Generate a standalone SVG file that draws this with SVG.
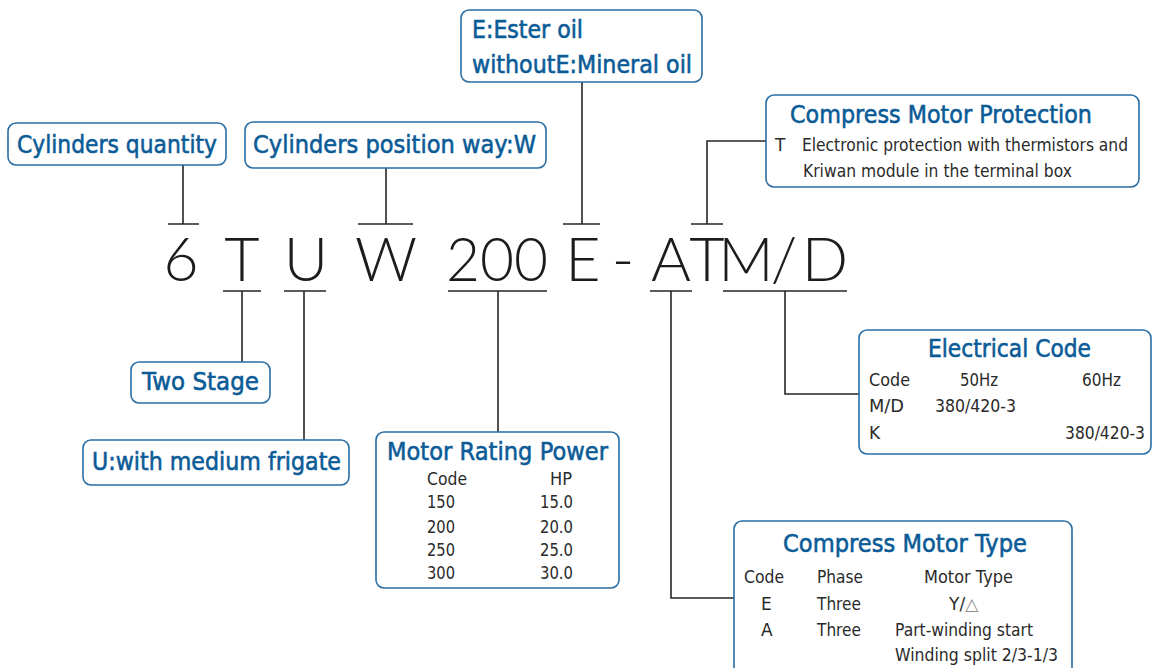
<svg xmlns="http://www.w3.org/2000/svg" width="1152" height="668" viewBox="0 0 1152 668">
<style>
.box{fill:#fff;stroke:#2a6ea4;stroke-width:1.6}
.ttl{font-family:"DejaVu Sans",sans-serif;font-size:25px;fill:#0b5b97;stroke:#0b5b97;stroke-width:0.6}
.ttl2{font-family:"DejaVu Sans",sans-serif;font-size:24px;fill:#0b5b97;stroke:#0b5b97;stroke-width:0.6}
.bd{font-family:"DejaVu Sans",sans-serif;font-size:17px;fill:#2a2a2a}
.big{font-family:Lato,"Liberation Sans",sans-serif;font-weight:300;font-size:61px;fill:#1c1c1c;text-anchor:middle}
.ln{fill:none;stroke:#262626;stroke-width:1.6}
</style>
<rect width="1152" height="668" fill="#fff"/>
<g id="connectors">
<path class="ln" d="M183 165V224M168 224H199"/>
<path class="ln" d="M386 168V224M358 224H413"/>
<path class="ln" d="M582 82V224M563 224H600"/>
<path class="ln" d="M766 141H707V224M691 224H723"/>
<path class="ln" d="M223 291H261M242 291V362"/>
<path class="ln" d="M284 291H326M304 291V440"/>
<path class="ln" d="M448 291H547M498 291V432"/>
<path class="ln" d="M650 291H692M671 291V598H734"/>
<path class="ln" d="M723 291H847M785 291V394H859"/>
</g>
<g id="code">
<text class="big" x="181" y="281">6</text>
<text class="big" x="242" y="281">T</text>
<text class="big" x="306" y="281">U</text>
<text class="big" x="386" y="281">W</text>
<text class="big" x="497" y="281" textLength="102" lengthAdjust="spacingAndGlyphs">200</text>
<text class="big" x="583" y="281">E</text>
<text class="big" x="623" y="281">-</text>
<text class="big" x="671" y="281">A</text>
<text class="big" x="707" y="281">T</text>
<text class="big" x="746" y="281">M</text>
<text class="big" x="784" y="281">/</text>
<text class="big" x="825" y="281">D</text>
</g>
<g id="cylinders-quantity">
<rect class="box" x="8" y="123" width="218" height="42" rx="8"/>
<text class="ttl" x="17" y="153" textLength="200" lengthAdjust="spacingAndGlyphs">Cylinders quantity</text>
</g>
<g id="cylinders-position">
<rect class="box" x="245" y="122" width="301" height="46" rx="8"/>
<text class="ttl" x="253" y="153" textLength="283" lengthAdjust="spacingAndGlyphs">Cylinders position way:W</text>
</g>
<g id="oil">
<rect class="box" x="461" y="10" width="241" height="72" rx="8"/>
<text class="ttl2" x="472" y="38" textLength="111" lengthAdjust="spacingAndGlyphs">E:Ester oil</text>
<text class="ttl2" x="472" y="73" textLength="220" lengthAdjust="spacingAndGlyphs">withoutE:Mineral oil</text>
</g>
<g id="motor-protection">
<rect class="box" x="766" y="95" width="373" height="92" rx="8"/>
<text class="ttl" x="790" y="123" textLength="302" lengthAdjust="spacingAndGlyphs">Compress Motor Protection</text>
<text class="bd" x="775" y="151">T</text>
<text class="bd" x="802" y="151" textLength="326" lengthAdjust="spacingAndGlyphs">Electronic protection with thermistors and</text>
<text class="bd" x="803" y="177" textLength="269" lengthAdjust="spacingAndGlyphs">Kriwan module in the terminal box</text>
</g>
<g id="electrical-code">
<rect class="box" x="859" y="330" width="292" height="124" rx="8"/>
<text class="ttl" x="928" y="357" textLength="163" lengthAdjust="spacingAndGlyphs">Electrical Code</text>
<text class="bd" x="869" y="386" textLength="41" lengthAdjust="spacingAndGlyphs">Code</text>
<text class="bd" x="960" y="386" textLength="38" lengthAdjust="spacingAndGlyphs">50Hz</text>
<text class="bd" x="1082" y="386" textLength="39" lengthAdjust="spacingAndGlyphs">60Hz</text>
<text class="bd" x="869" y="412" textLength="35" lengthAdjust="spacingAndGlyphs">M/D</text>
<text class="bd" x="935" y="412" textLength="81" lengthAdjust="spacingAndGlyphs">380/420-3</text>
<text class="bd" x="869" y="439">K</text>
<text class="bd" x="1065" y="439" textLength="80" lengthAdjust="spacingAndGlyphs">380/420-3</text>
</g>
<g id="motor-rating-power">
<rect class="box" x="376" y="432" width="243" height="156" rx="8"/>
<text class="ttl" x="387" y="460" textLength="221" lengthAdjust="spacingAndGlyphs">Motor Rating Power</text>
<text class="bd" x="427" y="485" textLength="40" lengthAdjust="spacingAndGlyphs">Code</text>
<text class="bd" x="550" y="485" textLength="22" lengthAdjust="spacingAndGlyphs">HP</text>
<text class="bd" x="427" y="508" textLength="28" lengthAdjust="spacingAndGlyphs">150</text>
<text class="bd" x="540" y="508" textLength="33" lengthAdjust="spacingAndGlyphs">15.0</text>
<text class="bd" x="427" y="533" textLength="28" lengthAdjust="spacingAndGlyphs">200</text>
<text class="bd" x="540" y="533" textLength="33" lengthAdjust="spacingAndGlyphs">20.0</text>
<text class="bd" x="427" y="556" textLength="28" lengthAdjust="spacingAndGlyphs">250</text>
<text class="bd" x="540" y="556" textLength="33" lengthAdjust="spacingAndGlyphs">25.0</text>
<text class="bd" x="427" y="579" textLength="28" lengthAdjust="spacingAndGlyphs">300</text>
<text class="bd" x="540" y="579" textLength="33" lengthAdjust="spacingAndGlyphs">30.0</text>
</g>
<g id="motor-type">
<rect class="box" x="734" y="521" width="338" height="160" rx="8"/>
<text class="ttl" x="783" y="552" textLength="244" lengthAdjust="spacingAndGlyphs">Compress Motor Type</text>
<text class="bd" x="744" y="583" textLength="40" lengthAdjust="spacingAndGlyphs">Code</text>
<text class="bd" x="817" y="583" textLength="46" lengthAdjust="spacingAndGlyphs">Phase</text>
<text class="bd" x="924" y="583" textLength="89" lengthAdjust="spacingAndGlyphs">Motor Type</text>
<text class="bd" x="761" y="610">E</text>
<text class="bd" x="817" y="610" textLength="44" lengthAdjust="spacingAndGlyphs">Three</text>
<text class="bd" x="949" y="610">Y/<tspan fill="#8a8a8a">△</tspan></text>
<text class="bd" x="761" y="636">A</text>
<text class="bd" x="817" y="636" textLength="44" lengthAdjust="spacingAndGlyphs">Three</text>
<text class="bd" x="895" y="636" textLength="138" lengthAdjust="spacingAndGlyphs">Part-winding start</text>
<text class="bd" x="895" y="661" textLength="163" lengthAdjust="spacingAndGlyphs">Winding split 2/3-1/3</text>
</g>
<g id="two-stage">
<rect class="box" x="131" y="362" width="139" height="41" rx="8"/>
<text class="ttl" x="142" y="390" textLength="117" lengthAdjust="spacingAndGlyphs">Two Stage</text>
</g>
<g id="medium-frigate">
<rect class="box" x="83" y="440" width="266" height="45" rx="8"/>
<text class="ttl" x="92" y="470" textLength="249" lengthAdjust="spacingAndGlyphs">U:with medium frigate</text>
</g>
</svg>
